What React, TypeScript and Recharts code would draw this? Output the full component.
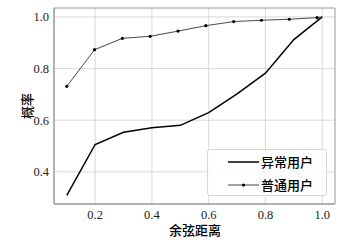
import React from "react";
import {
  LineChart,
  Line,
  XAxis,
  YAxis,
  CartesianGrid,
  ReferenceArea,
  Legend,
  Label,
} from "recharts";

// 异常用户
const xAbnormal = [0.1, 0.2, 0.3, 0.4, 0.5, 0.6, 0.7, 0.8, 0.9, 1.0];
const yAbnormal = [0.309, 0.506, 0.553, 0.571, 0.58, 0.629, 0.702, 0.782, 0.912, 1.0];

// 普通用户
const xNormal = [0.1, 0.198, 0.296, 0.394, 0.492, 0.59, 0.688, 0.786, 0.884, 0.982, 1.0];
const yNormal = [0.731, 0.873, 0.917, 0.925, 0.945, 0.966, 0.982, 0.987, 0.991, 0.997, 1.0];

const xTicks = [0.2, 0.4, 0.6, 0.8, 1.0];
const yTicks = [0.4, 0.6, 0.8, 1.0];

const abnormalData = xAbnormal.map((x, i) => ({ x, y: yAbnormal[i] }));
const normalData = xNormal.map((x, i) => ({ x, y: yNormal[i] }));

const X_DOMAIN: [number, number] = [0.055, 1.045];
const Y_DOMAIN: [number, number] = [0.2755, 1.0345];

const serif = "Liberation Serif, Times New Roman, serif";
const cjk = "Noto Sans CJK SC, sans-serif";

const XTick = (props: any) => {
  const { x, y, payload } = props;
  return (
    <text x={x} y={y} dy="0.71em" textAnchor="middle" style={{ fontFamily: serif }} fontSize={12.5} fill="#222">
      {Number(payload.value).toFixed(1)}
    </text>
  );
};

const YTick = (props: any) => {
  const { x, y, payload } = props;
  return (
    <text x={x} y={y} dy="0.355em" textAnchor="end" style={{ fontFamily: serif }} fontSize={12.5} fill="#222">
      {Number(payload.value).toFixed(1)}
    </text>
  );
};

const NormalDot = (props: any) => {
  const { cx, cy, index } = props;
  if (index === normalData.length - 1) return <g key={`d${index}`} />;
  return <circle key={`d${index}`} cx={cx} cy={cy} r={1.6} fill="#000" />;
};

const renderLegend = () => (
  <div
    style={{
      position: "relative",
      width: 120,
      height: 47,
      border: "1px solid #d6d6d6",
      borderRadius: 3,
      background: "rgba(255,255,255,0.85)",
      boxSizing: "border-box",
      fontFamily: cjk,
      fontSize: 13,
      fontWeight: 500,
      color: "#000",
    }}
  >
    <div style={{ position: "absolute", left: 20, top: 4, height: 16, display: "flex", alignItems: "center" }}>
      <svg width={31} height={10}>
        <line x1={0} y1={5} x2={31} y2={5} stroke="#000" strokeWidth={1.5} />
      </svg>
      <span style={{ marginLeft: 2, lineHeight: "16px" }}>异常用户</span>
    </div>
    <div style={{ position: "absolute", left: 20, top: 27, height: 16, display: "flex", alignItems: "center" }}>
      <svg width={31} height={10}>
        <line x1={0} y1={5} x2={31} y2={5} stroke="#333" strokeWidth={0.9} />
        <circle cx={15.5} cy={5} r={1.6} fill="#000" />
      </svg>
      <span style={{ marginLeft: 2, lineHeight: "16px" }}>普通用户</span>
    </div>
  </div>
);

export default function App() {
  return (
    <div style={{ position: "absolute", left: 0, top: 0, background: "#fff", fontFamily: serif }}>
      <LineChart width={364} height={245} margin={{ top: 8, right: 29, bottom: 0, left: 0 }}>
        <CartesianGrid stroke="#cfcfcf" strokeWidth={0.8} />
        <XAxis
          type="number"
          dataKey="x"
          domain={X_DOMAIN}
          ticks={xTicks}
          allowDataOverflow
          tick={<XTick />}
          tickLine={false}
          tickSize={0}
          tickMargin={6}
          height={41}
          axisLine={{ stroke: "#999" }}
        >
          <Label
            content={() => (
              <text x={195} y={235} textAnchor="middle" style={{ fontFamily: cjk }} fontSize={13} fontWeight={500} fill="#000">
                余弦距离
              </text>
            )}
          />
        </XAxis>
        <YAxis
          type="number"
          dataKey="y"
          domain={Y_DOMAIN}
          ticks={yTicks}
          allowDataOverflow
          tick={<YTick />}
          tickLine={false}
          tickSize={0}
          tickMargin={5}
          width={54}
          axisLine={{ stroke: "#999" }}
        >
          <Label
            content={() => (
              <text
                x={26}
                y={106}
                textAnchor="middle"
                dominantBaseline="central"
                style={{ fontFamily: cjk }}
                fontSize={13}
                fontWeight={500}
                fill="#000"
                transform="rotate(-90 26 106)"
              >
                概率
              </text>
            )}
          />
        </YAxis>
        <ReferenceArea
          x1={X_DOMAIN[0]}
          x2={X_DOMAIN[1]}
          y1={Y_DOMAIN[0]}
          y2={Y_DOMAIN[1]}
          fill="none"
          stroke="#aaa"
          strokeWidth={1}
        />
        <Line
          data={abnormalData}
          dataKey="y"
          name="异常用户"
          type="linear"
          stroke="#000"
          strokeWidth={1.5}
          dot={false}
          activeDot={false}
          isAnimationActive={false}
        />
        <Line
          data={normalData}
          dataKey="y"
          name="普通用户"
          type="linear"
          stroke="#333"
          strokeWidth={0.9}
          dot={NormalDot}
          activeDot={false}
          isAnimationActive={false}
        />
        <Legend
          layout="horizontal"
          verticalAlign="middle"
          align="center"
          content={renderLegend}
          wrapperStyle={{ position: "absolute", left: 207, top: 149, width: 120, height: 47 }}
        />
      </LineChart>
    </div>
  );
}
